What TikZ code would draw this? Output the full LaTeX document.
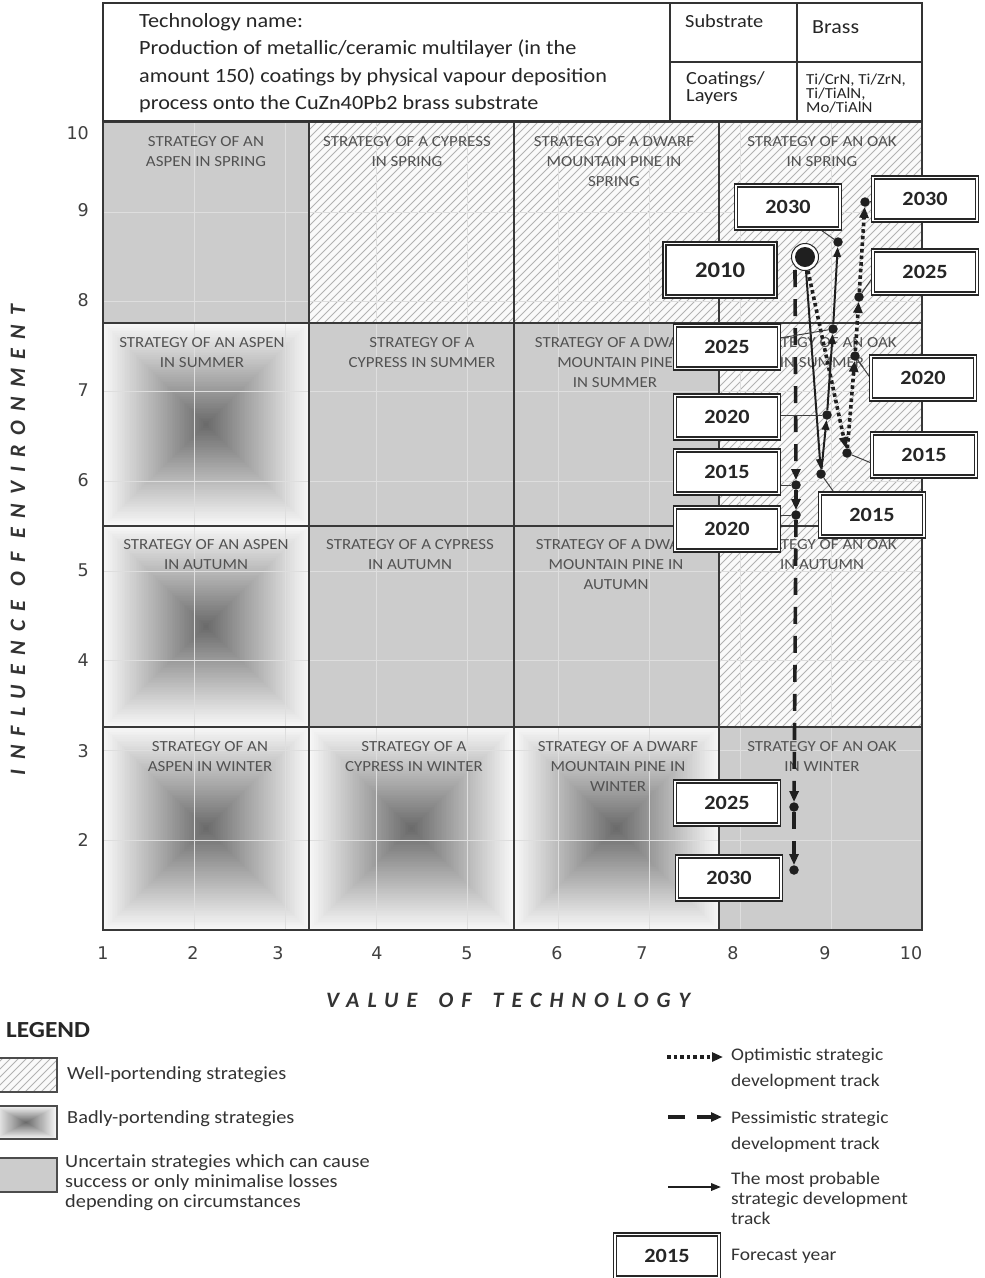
\documentclass[tikz,border=0pt]{standalone}
\usepackage{fontspec}
\setmainfont[FakeStretch=1.1]{Carlito}
\newfontfamily\numfont{DejaVu Sans}
\newfontfamily\axisfont{Carlito}
\usetikzlibrary{arrows.meta,calc}
\pgfdeclarelayer{bg}
\pgfdeclarelayer{lines}
\pgfsetlayers{bg,lines,main}

\newcommand\hatchrect[4]{%
  \begin{scope}
    \clip (#1,#2) rectangle (#3,#4);
    \fill[hatchbg] (#1,#2) rectangle (#3,#4);
    \pgfmathsetmacro\hH{#4-#2}
    \pgfmathsetmacro\hS{#1-\hH}
    \pgfmathsetmacro\hT{\hS+8}
    \foreach \i in {\hS,\hT,...,#3} \draw[hatchline] (\i,#4) -- ++(\hH,-\hH);
  \end{scope}}

\newcommand\pyramid[4]{%
  \pgfmathsetmacro\pcx{(#1+#3)/2}
  \pgfmathsetmacro\pcy{(#2+#4)/2}
  \pgfmathsetmacro\phw{(#3-#1)/2}
  \pgfmathsetmacro\phh{(#4-#2)/2}
  \foreach \k in {0,...,59}{%
    \pgfmathsetmacro\pf{1-\k/60}
    \pgfmathsetmacro\pc{3+56*\k/60}
    \fill[black!\pc] (\pcx-\phw*\pf,\pcy-\phh*\pf) rectangle (\pcx+\phw*\pf,\pcy+\phh*\pf);
  }}

\begin{document}
\begin{tikzpicture}[x=1pt,y=-1pt,
  frame/.style={draw=black!80, line width=1.1pt},
  cellborder/.style={draw=black!78, line width=1.4pt},
  gridline/.style={draw=black!13, line width=0.9pt},
  hatchline/.style={draw=black!30, line width=0.8pt},
  hatchbg/.style={fill=black!2},
  grayfill/.style={fill=black!20},
  legbox/.style={draw=black!70, line width=1.1pt},
  celltext/.style={anchor=north, inner sep=0pt, align=center, text=black!68, font=\fontsize{15.4}{20}\selectfont},
  yearbox/.style={draw=black!85, double=white, double distance=1.6pt, line width=1.3pt, fill=white,
     minimum width=104pt, minimum height=43pt, inner sep=0pt, text=black!85,
     font=\bfseries\fontsize{20.2}{21}\selectfont},
  bigyearbox/.style={yearbox, minimum width=111pt, minimum height=53pt, font=\bfseries\fontsize{22.4}{24}\selectfont},
  dot/.style={circle, fill=black!88, inner sep=0pt, minimum size=9.5pt},
  startdot/.style={circle, draw=black!85, line width=1pt, fill=white, inner sep=0pt, minimum size=27pt,
     path picture={\fill[black!88] (path picture bounding box.center) circle (10pt);}},
  link/.style={draw=black!75, line width=1pt},
  soltrack/.style={draw=black!88, line width=2pt, -{Triangle[length=10pt,width=7.5pt]}},
  opttrack/.style={draw=black!88, line width=3.6pt, dash pattern=on 3.6pt off 3pt, -{Triangle[length=11pt,width=9pt]}},
  pestrack/.style={draw=black!88, line width=3.6pt, dash pattern=on 17pt off 12pt, -{Triangle[length=11pt,width=9pt]}},
  ticknum/.style={font=\numfont\fontsize{17.5}{17.5}\selectfont, text=black!75, inner sep=0pt},
  legtext/.style={anchor=west, inner sep=0pt, align=left, text=black!80, font=\fontsize{18.5}{20}\selectfont},
  legtextr/.style={legtext, font=\fontsize{17.7}{26}\selectfont},
  axistitle/.style={inner sep=0pt, text=black!80}
]
\useasboundingbox (0,0) rectangle (985,1278);

% ---------------- cells (background layer)
\begin{pgfonlayer}{bg}
\fill[white] (0,0) rectangle (985,1278);
% uncertain
\fill[grayfill] (103,122) rectangle (309,323);
\fill[grayfill] (309,323) rectangle (514,526);
\fill[grayfill] (514,323) rectangle (719,526);
\fill[grayfill] (309,526) rectangle (514,727);
\fill[grayfill] (514,526) rectangle (719,727);
\fill[grayfill] (719,727) rectangle (922,930);
% well-portending
\hatchrect{309}{122}{514}{323}
\hatchrect{514}{122}{719}{323}
\hatchrect{719}{122}{922}{323}
\hatchrect{719}{323}{922}{526}
\hatchrect{719}{526}{922}{727}
% badly-portending
\pyramid{103}{323}{309}{526}
\pyramid{103}{526}{309}{727}
\pyramid{103}{727}{309}{930}
\pyramid{309}{727}{514}{930}
\pyramid{514}{727}{719}{930}
% faint grid
\foreach \gx in {194,285,376,467,558,649,740,831} \draw[gridline] (\gx,122) -- (\gx,930);
\foreach \gy in {212,301,391,481,571,660,750,840} \draw[gridline] (103,\gy) -- (922,\gy);
% borders
\draw[cellborder] (103,122) rectangle (922,930);
\foreach \cx in {309,514,719} \draw[cellborder] (\cx,122) -- (\cx,930);
\foreach \cy in {323,526,727} \draw[cellborder] (103,\cy) -- (922,\cy);
% cell texts
\node[celltext] (t11) at (206,136) {STRATEGY OF AN\\ASPEN IN SPRING};
\node[celltext] (t12) at (407,136) {STRATEGY OF A CYPRESS\\IN SPRING};
\node[celltext] (t13) at (614,136) {STRATEGY OF A DWARF\\MOUNTAIN PINE IN\\SPRING};
\node[celltext] (t14) at (822,136) {STRATEGY OF AN OAK\\IN SPRING};
\node[celltext] (t21) at (202,337) {STRATEGY OF AN ASPEN\\IN SUMMER};
\node[celltext] (t22) at (422,337) {STRATEGY OF A\\CYPRESS IN SUMMER};
\node[celltext] (t23) at (615,337) {STRATEGY OF A DWARF\\MOUNTAIN PINE\\IN SUMMER};
\node[celltext] (t24) at (822,337) {STRATEGY OF AN OAK\\IN SUMMER};
\node[celltext] (t31) at (206,539) {STRATEGY OF AN ASPEN\\IN AUTUMN};
\node[celltext] (t32) at (410,539) {STRATEGY OF A CYPRESS\\IN AUTUMN};
\node[celltext] (t33) at (616,539) {STRATEGY OF A DWARF\\MOUNTAIN PINE IN\\AUTUMN};
\node[celltext] (t34) at (822,539) {STRATEGY OF AN OAK\\IN AUTUMN};
\node[celltext] (t41) at (210,741) {STRATEGY OF AN\\ASPEN IN WINTER};
\node[celltext] (t42) at (414,741) {STRATEGY OF A\\CYPRESS IN WINTER};
\node[celltext] (t43) at (618,741) {STRATEGY OF A DWARF\\MOUNTAIN PINE IN\\WINTER};
\node[celltext] (t44) at (822,741) {STRATEGY OF AN OAK\\IN WINTER};
\end{pgfonlayer}

% ---------------- header table
\draw[frame] (103,3) rectangle (922,121);
\draw[frame] (670,3) -- (670,121) (797,3) -- (797,121) (670,62) -- (922,62);
\node[anchor=north west, align=left, inner sep=0pt, text=black!85, font=\fontsize{20.2}{27.5}\selectfont] (htext) at (139,13)
  {Technology name:\\Production of metallic/ceramic multilayer (in the\\amount 150) coatings by physical vapour deposition\\process onto the CuZn40Pb2 brass substrate};
\node[anchor=west, inner sep=0pt, text=black!85, font=\fontsize{18.5}{17}\selectfont] (hsub) at (685,21) {Substrate};
\node[anchor=west, inner sep=0pt, text=black!85, font=\fontsize{20}{19}\selectfont] (hbrass) at (812,27) {Brass};
\node[anchor=west, align=left, inner sep=0pt, text=black!85, font=\fontsize{18.5}{17}\selectfont] (hcoat) at (686,88) {Coatings/\\Layers};
\node[anchor=west, align=left, inner sep=0pt, text=black!85, font=\fontsize{15.3}{14}\selectfont] (hlay) at (806,94) {Ti/CrN, Ti/ZrN,\\Ti/TiAlN,\\Mo/TiAlN};

% ---------------- axes
\foreach \v/\px in {1/103,2/193,3/278,4/377,5/467,6/557,7/642,8/733,9/825,10/911}
  \node[ticknum] (xt\v) at (\px,953) {\v};
\foreach \v/\py in {10/133,9/210,8/300,7/390,6/480,5/570,4/660,3/751,2/840}
  \node[ticknum, anchor=east] (yt\v) at (89,\py) {\v};
\node[axistitle, font=\axisfont\addfontfeatures{LetterSpace=37}\bfseries\itshape\fontsize{22}{22}\selectfont] (xtitle) at (508,1000) {VALUE\hspace{8pt} OF\hspace{8pt} TECHNOLOGY};
\node[axistitle, rotate=90, font=\axisfont\addfontfeatures{LetterSpace=42}\bfseries\itshape\fontsize{22}{22}\selectfont] (ytitle) at (18,540) {INFLUENCE OF ENVIRONMENT};

% ---------------- track points
\node[startdot] (start) at (805,257) {};
\coordinate (pstart) at (795,270);
\node[dot] (s15) at (821,474) {};
\node[dot] (s20) at (827,415) {};
\node[dot] (s25) at (833,329) {};
\node[dot] (s30) at (838,242) {};
\node[dot] (o15) at (847,453) {};
\node[dot] (o20) at (855,356) {};
\node[dot] (o25) at (859,297) {};
\node[dot] (o30) at (865,202) {};
\node[dot] (p15) at (796,485) {};
\node[dot] (p20) at (796,515) {};
\node[dot] (p25) at (794,807) {};
\node[dot] (p30) at (794,870) {};

% ---------------- year boxes
\node[bigyearbox] (b10) at (720,270) {2010};
\node[yearbox] (bs30) at (788,207) {2030};
\node[yearbox] (bo30) at (925,199) {2030};
\node[yearbox] (bo25) at (925,272) {2025};
\node[yearbox] (bs25) at (727,347) {2025};
\node[yearbox] (bo20) at (923,378) {2020};
\node[yearbox] (bs20) at (727,417) {2020};
\node[yearbox] (bo15) at (924,455) {2015};
\node[yearbox] (bp15) at (727,472) {2015};
\node[yearbox] (bs15) at (872,515) {2015};
\node[yearbox] (bp20) at (727,529) {2020};
\node[yearbox] (bp25) at (727,803) {2025};
\node[yearbox] (bp30) at (729,878) {2030};

% ---------------- tracks and links
\begin{pgfonlayer}{lines}
\draw[pestrack] (pstart) -- (p15);
\draw[pestrack] (p15) -- (p20);
\draw[pestrack] (p20) -- (p25);
\draw[pestrack] (p25) -- (p30);
\draw[opttrack] (start) -- (o15);
\draw[opttrack] (o15) -- (o20);
\draw[opttrack] (o20) -- (o25);
\draw[opttrack] (o25) -- (o30);
\draw[soltrack] (start) -- (s15);
\draw[soltrack] (s15) -- (s20);
\draw[soltrack] (s20) -- (s25);
\draw[soltrack] (s25) -- (s30);
\draw[link] (bs30) -- (s30);
\draw[link] (bo30) -- (o30);
\draw[link] ([yshift=-6pt]bo25.west) -- (o25);
\draw[link] (bo20.west) -- (o20);
\draw[link] ([yshift=-8pt]bo15.west) -- (o15);
\draw[link] ([xshift=15pt]bs15.north west) -- (s15);
\draw[link] (bs20.east |- s20) -- (s20);
\draw[link] (bs25) -- (s25);
\draw[link] (bp15.east |- p15) -- (p15);
\draw[link] (bp20.east |- p20) -- (p20);
\end{pgfonlayer}

% ---------------- legend
\node[anchor=west, inner sep=0pt, text=black!85, font=\bfseries\fontsize{23}{23}\selectfont] (legtitle) at (6,1030) {LEGEND};
\hatchrect{-5}{1058}{57}{1092}
\draw[legbox] (-5,1058) rectangle (57,1092);
\pyramid{-5}{1106}{57}{1139}
\draw[legbox] (-5,1106) rectangle (57,1139);
\fill[grayfill] (-5,1158) rectangle (57,1192);
\draw[legbox] (-5,1158) rectangle (57,1192);
\node[legtext] (lw) at (67,1075) {Well-portending strategies};
\node[legtext] (lb) at (67,1119) {Badly-portending strategies};
\node[legtext] (lu) at (65,1183) {Uncertain strategies which can cause\\success or only minimalise losses\\depending on circumstances};

\coordinate (lo1) at (667,1057); \coordinate (lo2) at (723,1057);
\draw[opttrack] (lo1) -- (lo2);
\node[legtextr] (lot) at (731,1069) {Optimistic strategic\\development track};
\coordinate (lp1) at (668,1117); \coordinate (lp2) at (722,1117);
\draw[pestrack] (lp1) -- (lp2);
\node[legtextr] (lpt) at (731,1132) {Pessimistic strategic\\development track};
\coordinate (ls1) at (668,1187); \coordinate (ls2) at (721,1187);
\draw[soltrack] (ls1) -- (ls2);
\node[legtextr, font=\fontsize{17.7}{20}\selectfont] (lst) at (731,1198) {The most probable\\strategic development\\track};
\node[yearbox] (lyb) at (667,1256) {2015};
\node[legtextr] (lyt) at (731,1256) {Forecast year};
\end{tikzpicture}
\end{document}
